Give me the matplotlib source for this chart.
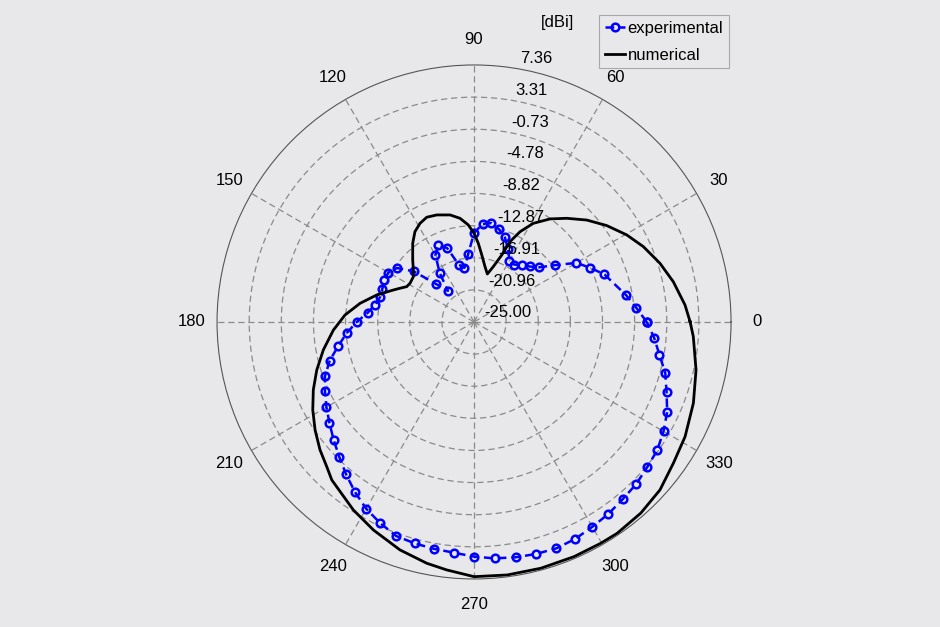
import numpy as np
import matplotlib.pyplot as plt

plt.rcParams['font.family'] = ['Liberation Sans', 'DejaVu Sans']

# measured pattern, 5 deg steps (15 deg point missing)
exp_deg = [0, 5, 10, 20, 25, 30, 35, 40, 45, 50, 55, 60, 65, 70, 75, 80, 85,
           90, 95, 100, 105, 110, 115, 120, 125, 130, 135, 140, 145, 150, 155,
           160, 165, 170, 175, 180, 185, 190, 195, 200, 205, 210, 215, 220,
           225, 230, 235, 240, 245, 250, 255, 260, 265, 270, 275, 280, 285,
           290, 295, 300, 305, 310, 315, 320, 325, 330, 335, 340, 345, 350, 355]
exp_dbi = [-3.26, -4.49, -5.56, -7.52, -8.86, -10.11, -12.53, -14.29, -15.12,
           -15.66, -16.18, -16.08, -14.86, -13.66, -12.91, -12.36, -12.61,
           -13.79, -16.45, -18.07, -17.51, -15.10, -14.31, -15.28, -17.46,
           -19.88, -18.24, -15.08, -13.15, -12.55, -12.53, -12.72, -12.77,
           -12.36, -11.57, -10.23, -8.90, -7.64, -6.19, -5.02, -4.29, -3.54,
           -2.78, -1.92, -0.99, 0.06, 1.14, 2.16, 2.95, 3.68, 3.86, 4.01, 4.16,
           4.55, 4.88, 5.09, 5.24, 5.33, 5.14, 4.79, 4.50, 4.13, 3.87, 3.46,
           3.16, 2.55, 1.83, 0.80, -0.07, -1.30, -2.24]

# simulated pattern
num_deg = [0.1, 4.6, 11.4, 17.5, 24.0, 29.7, 36.0, 42.1, 48.2, 53.6, 59.0,
           63.0, 65.9, 67.5, 70.8, 74.5, 78.8, 83.4, 86.9, 90.0, 93.4, 97.7,
           102.6, 109.2, 114.3, 118.7, 123.2, 127.9, 134.7, 139.4, 143.3,
           148.8, 152.3, 155.5, 158.4, 164.5, 170.7, 176.9, 183.3, 190.5,
           197.0, 202.9, 208.6, 214.2, 219.7, 224.5, 228.0, 237.3, 244.2,
           252.0, 258.9, 263.7, 270.0, 277.5, 285.2, 293.1, 299.8, 304.1,
           311.1, 317.9, 324.7, 331.5, 339.7, 347.8, 356.2]
num_dbi = [2.20, 1.65, 0.60, -0.45, -1.67, -2.87, -4.35, -5.86, -7.49, -8.88,
           -10.51, -12.25, -13.92, -15.87, -17.62, -18.73, -17.90, -16.51,
           -15.08, -13.83, -12.76, -11.83, -11.19, -10.73, -10.53, -10.84,
           -11.41, -12.43, -14.02, -14.94, -15.47, -15.58, -15.43, -14.76,
           -14.07, -12.28, -10.46, -8.73, -7.26, -5.70, -4.29, -3.03, -1.87,
           -0.80, 0.21, 1.00, 1.77, 3.13, 4.10, 5.18, 5.96, 6.41, 7.07, 7.13,
           7.13, 7.12, 7.11, 7.14, 6.94, 6.55, 5.76, 5.24, 4.45, 3.60, 2.67]

ring_labels = ['-25.00', '-20.96', '-16.91', '-12.87', '-8.82', '-4.78',
               '-0.73', '3.31', '7.36']
ring_vals = np.array([float(s) for s in ring_labels])
angle_ticks = np.arange(0, 360, 30)

r_min, r_max = ring_vals[0], ring_vals[-1]
bg = '#e8e8ea'

fig = plt.figure(figsize=(9.4, 6.27), dpi=100, facecolor=bg)
ax = fig.add_axes([0.2309, 0.0766, 0.5468, 0.8198], projection='polar')
ax.set_facecolor(bg)
ax.set_ylim(r_min, r_max)

ax.set_yticks(ring_vals[1:-1])
ax.set_yticklabels([])
ax.set_xticks(np.deg2rad(angle_ticks))
ax.set_xticklabels([])
ax.grid(True, linestyle=(0, (5, 3)), color='#8a8a8a', linewidth=0.9)
ax.spines['polar'].set_color('#555555')
ax.spines['polar'].set_linewidth(0.8)
ax.tick_params(length=0)

# closed loops
th_e = np.deg2rad(np.append(exp_deg, exp_deg[0]))
r_e = np.append(exp_dbi, exp_dbi[0])
th_n = np.deg2rad(np.append(num_deg, num_deg[0]))
r_n = np.append(num_dbi, num_dbi[0])

ln_e, = ax.plot(th_e, r_e, linestyle=(0, (3.5, 2)), color='#0000ff', lw=1.8,
                marker='o', ms=5.5, mfc='none', mec='#0000ff', mew=1.8,
                label='experimental')
ln_n, = ax.plot(th_n, r_n, color='black', lw=2.0, label='numerical')

# angle labels
for a in angle_ticks:
    ax.text(np.deg2rad(a), r_min + 1.1 * (r_max - r_min), str(a),
            ha='center', va='center', fontsize=12)

# ring labels
rinc = ring_vals[1] - ring_vals[0]
for v, lab in zip(ring_vals, ring_labels):
    ax.annotate(lab, xy=(np.deg2rad(82), v + rinc / 20), xytext=(7, 0),
                textcoords='offset points', ha='left', va='bottom',
                fontsize=12, annotation_clip=False)

fig.text(557 / 940, 1 - 23 / 627, '[dBi]', ha='center', va='center', fontsize=12)

leg = fig.legend(handles=[ln_e, ln_n], loc='upper right',
                 bbox_to_anchor=(729 / 940, 1 - 15 / 627), fontsize=12,
                 frameon=True, fancybox=False, facecolor=bg, framealpha=1,
                 edgecolor='#a8a8a8', handlelength=1.2, handletextpad=0.15,
                 borderpad=0.35, labelspacing=0.7, borderaxespad=0)
leg.get_frame().set_linewidth(0.8)

fig.savefig('out.png', dpi=100, facecolor=bg)
